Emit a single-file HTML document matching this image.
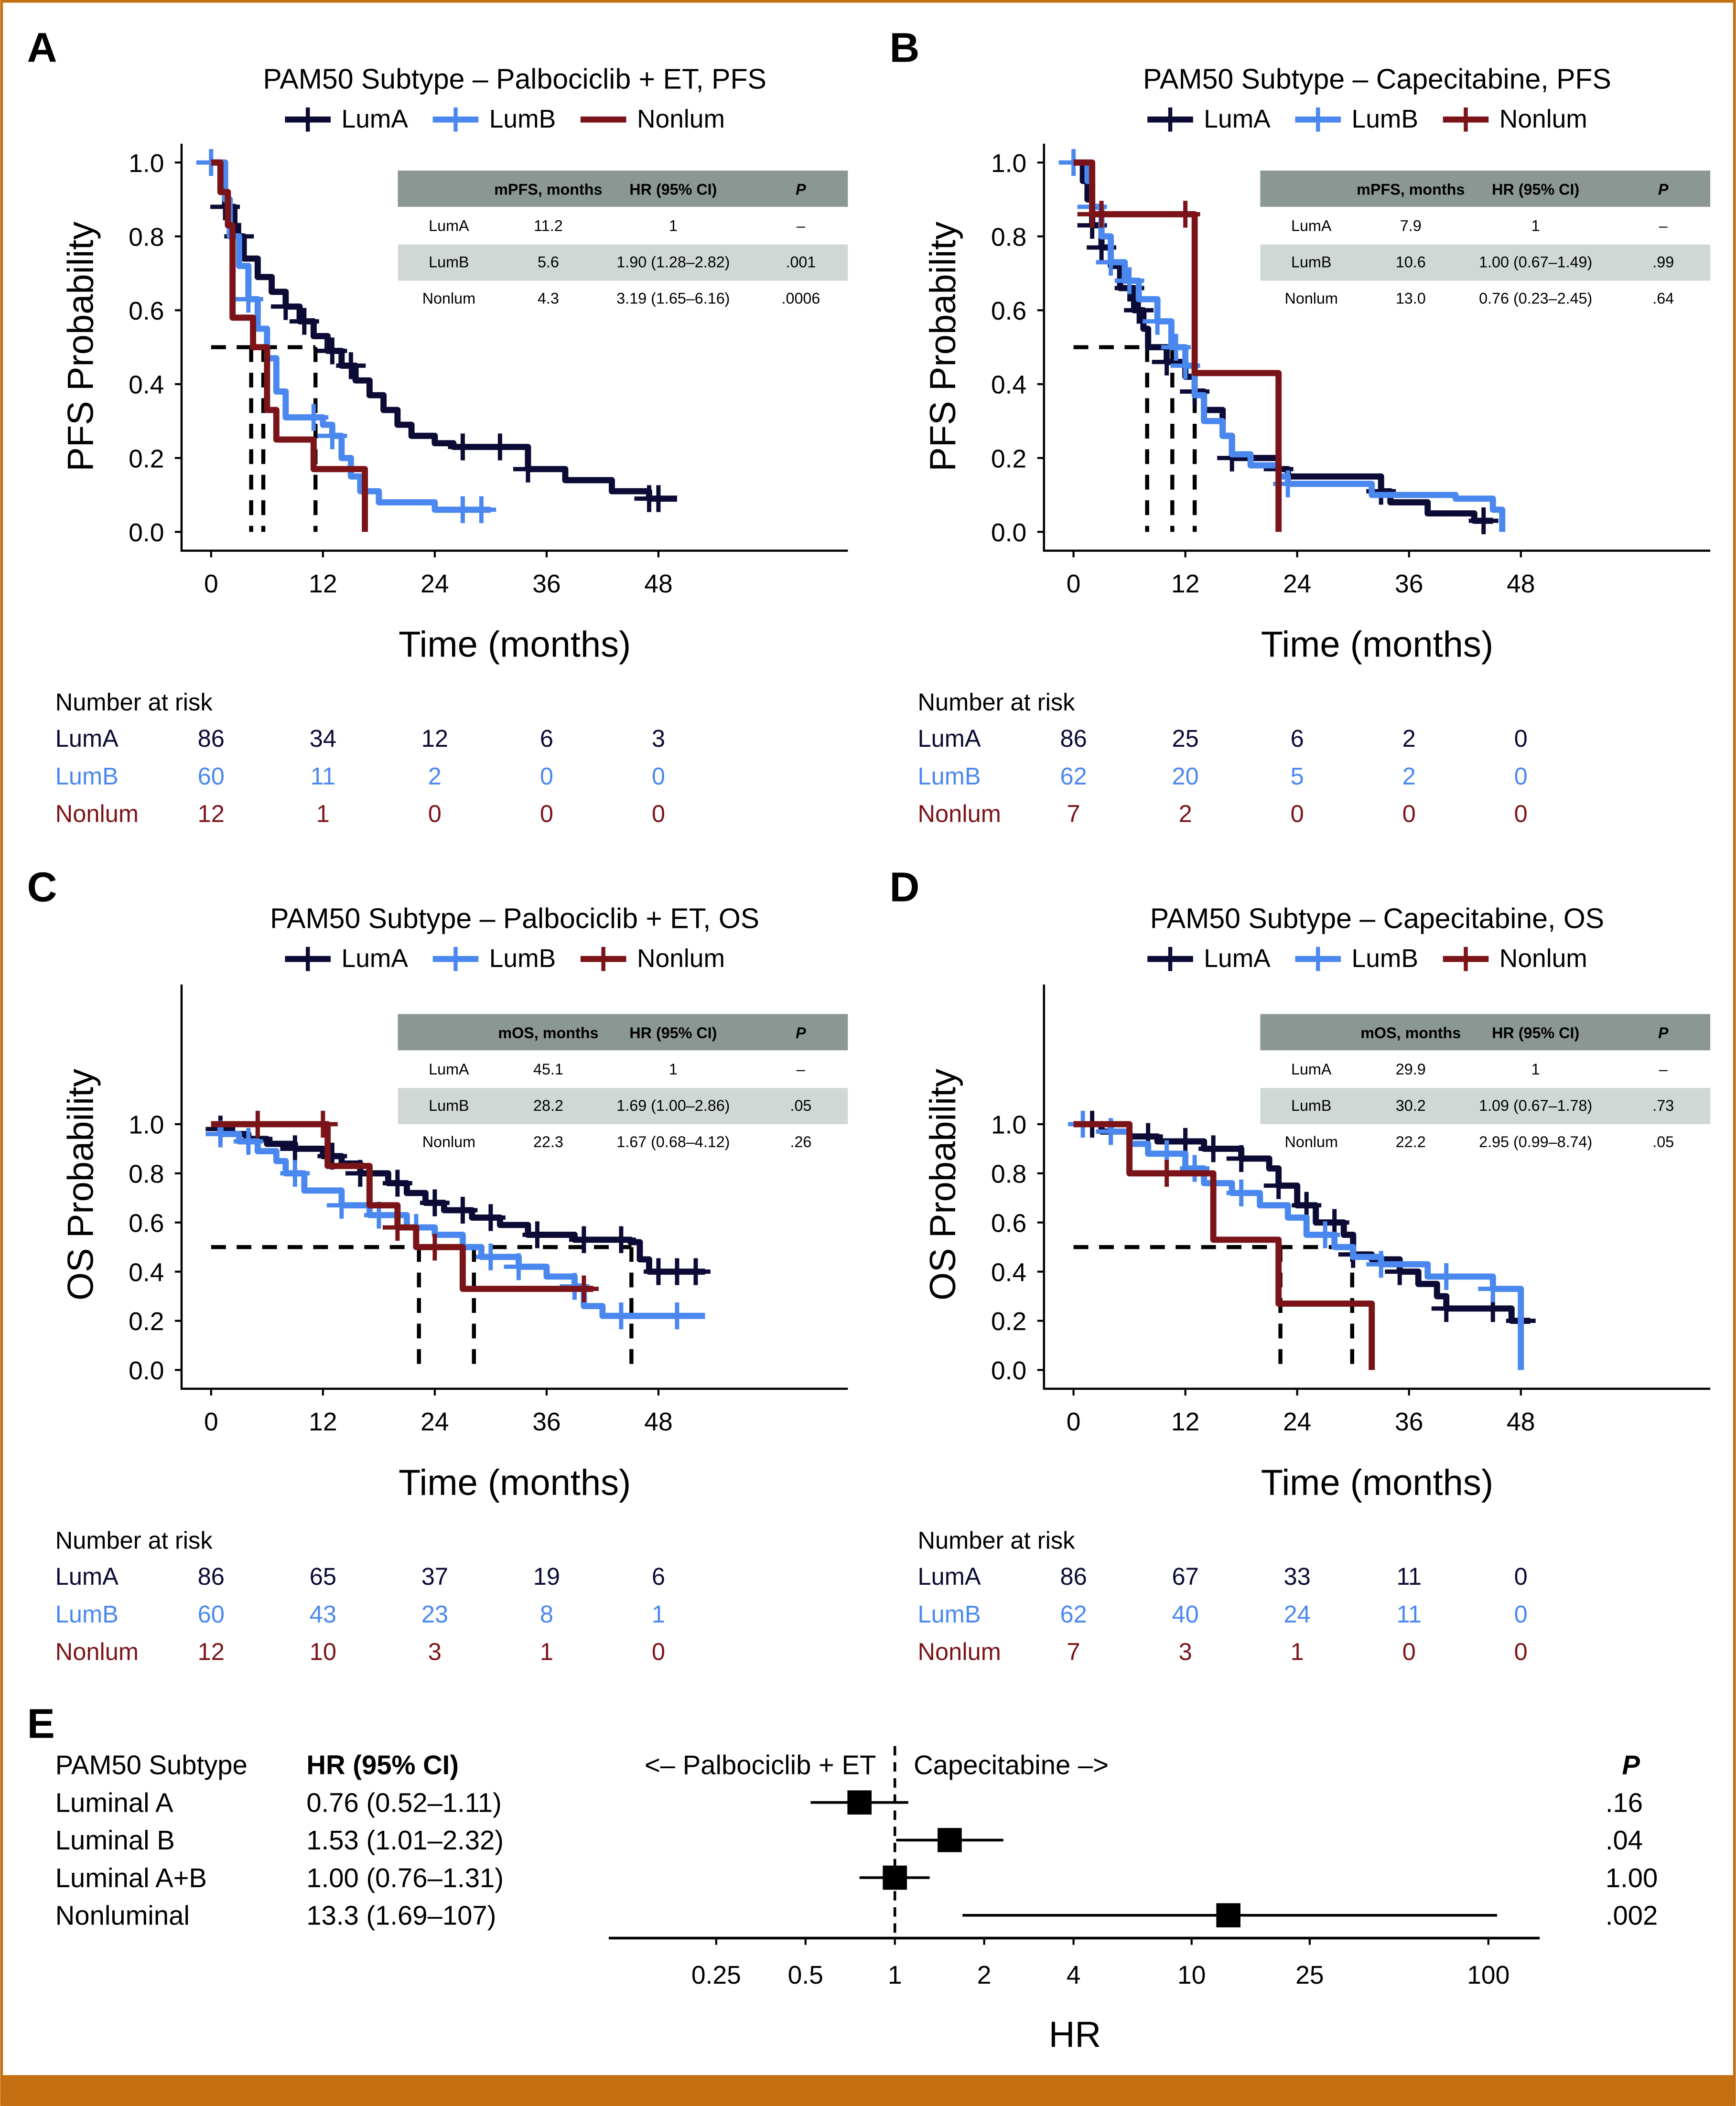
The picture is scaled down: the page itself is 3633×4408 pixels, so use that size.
<!DOCTYPE html>
<html><head><meta charset="utf-8"><style>
html,body{margin:0;padding:0;background:#fff}
svg{display:block}
text{font-family:"Liberation Sans Narrow","Liberation Sans",sans-serif}
</style></head><body>
<svg id="fig" xmlns="http://www.w3.org/2000/svg" width="3633" height="4408" viewBox="0 0 1292 1568">
<rect x="0" y="0" width="1292" height="1568" fill="#fff"/>
<rect x="1" y="1" width="1290" height="1560" fill="none" stroke="#c46f12" stroke-width="2"/>
<rect x="0" y="1545" width="1292" height="23" fill="#c46f12"/>
<g id="root"></g>
</svg>
<script>
// ===== Data =====
const xTicks = [0, 12, 24, 36, 48];
const pfsYTicks = ["0.0","0.2","0.4","0.6","0.8","1.0"];
const seriesNames = ["LumA","LumB","Nonlum"];
// Panel A (Palbociclib + ET, PFS)
const aLumAT = [0,1.5,2.5,3.5,5,6.5,8,9.5,11,12.5,14,15.5,17,18.5,20,21.5,24,26,34,36,38,43,47,50];
const aLumAS = [1,0.88,0.8,0.74,0.69,0.65,0.61,0.57,0.53,0.49,0.45,0.41,0.37,0.33,0.29,0.26,0.24,0.23,0.17,0.17,0.14,0.11,0.09,0.09];
const aLumBT = [0,1.5,2,3,4,5,6,7,8,12,13,14,15,16,18,24,30];
const aLumBS = [1,0.9,0.8,0.72,0.63,0.55,0.47,0.38,0.31,0.29,0.26,0.2,0.15,0.11,0.08,0.06,0.06];
const aNonT = [0,1,1.8,2.3,4.5,6,7,11,16.5];
const aNonS = [1,0.92,0.83,0.58,0.5,0.33,0.25,0.17,0.08];
const aNonEnd = 0;
const aLumACens = [1.5,3,8,10,13,15,27,31,34,47,48];
const aLumBCens = [0,4,11,13,27,29];
const aNonCens = [];
const aMedians = [4.3,5.6,11.2];
// Panel B (Capecitabine, PFS)
const bLumAT = [0,1,1.5,2,3,4,5,6.5,7.5,8,10,12,13,14,16,17,22,23,33,34,38,43,45];
const bLumAS = [1,0.95,0.9,0.83,0.77,0.72,0.66,0.6,0.55,0.5,0.46,0.42,0.38,0.33,0.26,0.2,0.17,0.15,0.11,0.08,0.05,0.03,0.03];
const bLumBT = [0,1.5,2,3,4,5.5,7,9,10.5,12,13,14,16,17,19,22,23,32,41,45,46];
const bLumBS = [1,0.95,0.88,0.8,0.73,0.68,0.63,0.57,0.5,0.45,0.37,0.3,0.26,0.21,0.18,0.15,0.13,0.1,0.09,0.06,0.06];
const bNonT = [0,2,13,22];
const bNonS = [1,0.86,0.43,0.43];
const bNonEnd = 0;
const bLumACens = [2,3,6,7,10,13,17,22,33,44];
const bLumBCens = [0,2,4,6,9,11,12,23];
const bNonCens = [2,3,12];
const bMedians = [7.9,10.6,13.0];
// Panel C (Palbociclib + ET, OS)
const cLumAT = [0,1,2,4,6,9,12,14,16,19,21,23,25,28,31,34,39,45,46,47,53];
const cLumAS = [1,0.98,0.96,0.94,0.92,0.9,0.87,0.84,0.8,0.76,0.72,0.68,0.65,0.62,0.59,0.55,0.53,0.52,0.45,0.4,0.4];
const cLumBT = [0,1,3,5,7,8,10,14,17,21,24,27,29,33,36,39,40,42,53];
const cLumBS = [1,0.96,0.93,0.89,0.85,0.8,0.73,0.67,0.63,0.58,0.55,0.5,0.46,0.42,0.38,0.34,0.26,0.22,0.22];
const cNonT = [0,12.5,17,20,22,27,41];
const cNonS = [1,0.83,0.67,0.58,0.5,0.33,0.33];
const cNonEnd = null;
const cLumACens = [1,5,9,13,16,20,24,27,30,35,40,44,48,50,52];
const cLumBCens = [1,4,9,14,18,22,30,33,39,44,50];
const cNonCens = [5,12,20,24,40];
const cMedians = [22.3,28.2,45.1];
// Panel D (Capecitabine, OS)
const dLumAT = [0,3,6,9,14,18,21,22,24,26,29,30,32,35,37,39,40,47,49];
const dLumAS = [1,0.97,0.95,0.93,0.9,0.86,0.82,0.75,0.67,0.6,0.55,0.47,0.45,0.4,0.35,0.3,0.25,0.2,0.2];
const dLumBT = [0,4,6,8,12,14,17,20,23,25,28,30,33,38,45,48];
const dLumBS = [1,0.97,0.92,0.88,0.82,0.76,0.72,0.67,0.62,0.55,0.5,0.46,0.43,0.38,0.33,0.28];
const dNonT = [0,6,15,22,32];
const dNonS = [1,0.8,0.53,0.27,0.27];
const dNonEnd = 0;
const dLumBEnd = 0;
const dLumACens = [2,4,8,12,15,18,22,25,28,30,35,40,45,48];
const dLumBCens = [1,4,10,13,18,27,33,40,45];
const dNonCens = [10];
const dMedians = [22.2,29.9];
// Number at risk
const riskA = [[86,34,12,6,3],[60,11,2,0,0],[12,1,0,0,0]];
const riskB = [[86,25,6,2,0],[62,20,5,2,0],[7,2,0,0,0]];
const riskC = [[86,65,37,19,6],[60,43,23,8,1],[12,10,3,1,0]];
const riskD = [[86,67,33,11,0],[62,40,24,11,0],[7,3,1,0,0]];
// Tables
const tableA = [["LumA","11.2","1","–"],["LumB","5.6","1.90 (1.28–2.82)",".001"],["Nonlum","4.3","3.19 (1.65–6.16)",".0006"]];
const tableB = [["LumA","7.9","1","–"],["LumB","10.6","1.00 (0.67–1.49)",".99"],["Nonlum","13.0","0.76 (0.23–2.45)",".64"]];
const tableC = [["LumA","45.1","1","–"],["LumB","28.2","1.69 (1.00–2.86)",".05"],["Nonlum","22.3","1.67 (0.68–4.12)",".26"]];
const tableD = [["LumA","29.9","1","–"],["LumB","30.2","1.09 (0.67–1.78)",".73"],["Nonlum","22.2","2.95 (0.99–8.74)",".05"]];
// Forest plot
const forestLabels = ["Luminal A","Luminal B","Luminal A+B","Nonluminal"];
const forestHRText = ["0.76 (0.52–1.11)","1.53 (1.01–2.32)","1.00 (0.76–1.31)","13.3 (1.69–107)"];
const forestHR = [0.76,1.53,1.00,13.3];
const forestLo = [0.52,1.01,0.76,1.69];
const forestHi = [1.11,2.32,1.31,107];
const forestP = [".16",".04","1.00",".002"];
const forestTicks = [0.25,0.5,1,2,4,10,25,100];
const forestTickLabels = ["0.25","0.5","1","2","4","10","25","100"];

// ===== Drawing =====
const NS = "http://www.w3.org/2000/svg";
const root = document.getElementById("root");
const COLORS = ["#0b0b36","#4a88f0","#7b1418"];
function mk(tag, attrs, parent, txt){
  const e = document.createElementNS(NS, tag);
  for (const k in attrs) e.setAttribute(k, attrs[k]);
  if (txt !== undefined) e.textContent = txt;
  (parent||root).appendChild(e);
  return e;
}
function stepAt(T,S,t){let v=S[0];for(let i=0;i<T.length;i++){if(T[i]<=t)v=S[i];}return v;}

function panel(cfg){
  const g = mk("g",{});
  
  
  const ox = cfg.ox;
  const X0 = 157+ox, XS = 333/48;
  const xs = t => X0 + t*XS;
  const ys = s => cfg.y0 - s*cfg.yscale;
  const L = mk("text",{x:20+ox,y:cfg.letterY,"font-size":31,"font-weight":"bold","font-family":"Liberation Sans, sans-serif"},g,cfg.letter);
  
  
  const T = mk("text",{x:383+ox,y:cfg.titleY,"font-size":21,"text-anchor":"middle"},g,cfg.title);
  
  
  const lx = [212,322,432];
  seriesNames.forEach((n,i)=>{
    const le = mk("g",{},g);
    
    
    const x = lx[i]+ox, y = cfg.titleY+29;
    mk("line",{x1:x,y1:y-6,x2:x+34,y2:y-6,stroke:COLORS[i],"stroke-width":4.5},le);
    if(i<2||cfg.nonCross) mk("path",{d:`M${x+17} ${y-15}V${y+3}M${x+8} ${y-6}H${x+26}`,stroke:COLORS[i],"stroke-width":3},le);
    mk("text",{x:x+42,y:y,"font-size":19},le,n);
  });
  const ax = mk("path",{d:`M${135+ox} ${cfg.top}V${cfg.axisY}H${631+ox}`,fill:"none",stroke:"#000","stroke-width":1.6},g);
  
  
  pfsYTicks.forEach((lab,i)=>{
    const y = ys(i*0.2);
    mk("line",{x1:130+ox,y1:y,x2:135+ox,y2:y,stroke:"#000","stroke-width":1.5},g);
    const t = mk("text",{x:122+ox,y:y+7,"font-size":19,"text-anchor":"end"},g,lab);
    
    
  });
  xTicks.forEach(v=>{
    const x = xs(v);
    mk("line",{x1:x,y1:cfg.axisY,x2:x,y2:cfg.axisY+5,stroke:"#000","stroke-width":1.5},g);
    const t = mk("text",{x:x,y:cfg.axisY+31,"font-size":19,"text-anchor":"middle"},g,String(v));
    
    
  });
  const yt = mk("text",{x:0,y:0,"font-size":27,"text-anchor":"middle",transform:`translate(${69+ox},${cfg.ylabY}) rotate(-90)`},g,cfg.ylab);
  
  
  const xt = mk("text",{x:383+ox,y:cfg.axisY+79,"font-size":27,"text-anchor":"middle"},g,"Time (months)");
  
  
  const tb = mk("g",{},g);
  
  
  const ty = cfg.tableY;
  mk("rect",{x:296+ox,y:ty,width:335,height:27,fill:"#8a9792"},tb);
  mk("rect",{x:296+ox,y:ty+55,width:335,height:27,fill:"#d0d8d6"},tb);
  const cx = [334,408,501,596];
  const hdr = ["",cfg.medLabel,"HR (95% CI)","P"];
  hdr.forEach((h,i)=>{ if(h) mk("text",{x:cx[i]+ox,y:ty+18,"font-size":11.5,"font-weight":"bold","font-style":i==3?"italic":"normal","text-anchor":"middle"},tb,h); });
  cfg.table.forEach((r,j)=>{ r.forEach((c,i)=>mk("text",{x:cx[i]+ox,y:ty+45+j*27,"font-size":11.5,"text-anchor":"middle"},tb,c)); });
  const med = mk("g",{stroke:"#000","stroke-width":3,"stroke-dasharray":"11,8",fill:"none"},g);
  
  
  const mx = Math.max(...cfg.medians);
  mk("line",{x1:xs(0),y1:ys(0.5),x2:xs(mx),y2:ys(0.5)},med);
  cfg.medians.forEach(m=>mk("line",{x1:xs(m),y1:ys(0.5),x2:xs(m),y2:ys(0)},med));
  cfg.series.forEach((s,i)=>{
    const cg = mk("g",{},g);
    
    
    let d = `M${xs(s.T[0])} ${ys(s.S[0])}`;
    for(let k=1;k<s.T.length;k++){ d += `H${xs(s.T[k])}V${ys(s.S[k])}`; }
    if(s.end!==null && s.end!==undefined) d += `V${ys(s.end)}`;
    mk("path",{d:d,fill:"none",stroke:COLORS[i],"stroke-width":4.6,"stroke-linejoin":"round"},cg);
    s.C.forEach(c=>{
      const x = xs(c), y = ys(stepAt(s.T,s.S,c));
      const m = mk("path",{d:`M${x} ${y-10}V${y+10}M${x-11} ${y}H${x+11}`,stroke:COLORS[i],"stroke-width":3.2},cg);
      
      
    });
  });
  const rg = mk("g",{},g);
  
  
  mk("text",{x:41+ox,y:cfg.riskY,"font-size":18},rg,"Number at risk");
  cfg.risk.forEach((row,j)=>{
    mk("text",{x:41+ox,y:cfg.riskY+27+j*28,"font-size":18,fill:COLORS[j]},rg,seriesNames[j]);
    row.forEach((v,k)=>mk("text",{x:xs(xTicks[k]),y:cfg.riskY+27+j*28,"font-size":18,fill:COLORS[j],"text-anchor":"middle"},rg,String(v)));
  });
}

const pfsCfg = {y0:396,yscale:275,top:107,axisY:410,ylabY:258,tableY:127,riskY:529,letterY:46,titleY:66,ylab:"PFS Probability",medLabel:"mPFS, months"};
const osCfg = {y0:1020,yscale:183,top:733,axisY:1034,ylabY:882,tableY:755,riskY:1153,letterY:671,titleY:691,ylab:"OS Probability",medLabel:"mOS, months"};
panel(Object.assign({},pfsCfg,{name:"panel-a",ox:0,letter:"A",title:"PAM50 Subtype – Palbociclib + ET, PFS",table:tableA,medians:aMedians,risk:riskA,
  series:[{T:aLumAT,S:aLumAS,C:aLumACens},{T:aLumBT,S:aLumBS,C:aLumBCens},{T:aNonT,S:aNonS,C:aNonCens,end:aNonEnd}]}));
panel(Object.assign({},pfsCfg,{name:"panel-b",ox:642,letter:"B",title:"PAM50 Subtype – Capecitabine, PFS",table:tableB,medians:bMedians,risk:riskB,nonCross:true,
  series:[{T:bLumAT,S:bLumAS,C:bLumACens},{T:bLumBT,S:bLumBS,C:bLumBCens,end:0},{T:bNonT,S:bNonS,C:bNonCens,end:bNonEnd}]}));
panel(Object.assign({},osCfg,{name:"panel-c",ox:0,letter:"C",title:"PAM50 Subtype – Palbociclib + ET, OS",table:tableC,medians:cMedians,risk:riskC,nonCross:true,
  series:[{T:cLumAT,S:cLumAS,C:cLumACens},{T:cLumBT,S:cLumBS,C:cLumBCens},{T:cNonT,S:cNonS,C:cNonCens,end:cNonEnd}]}));
panel(Object.assign({},osCfg,{name:"panel-d",ox:642,letter:"D",title:"PAM50 Subtype – Capecitabine, OS",table:tableD,medians:dMedians,risk:riskD,nonCross:true,
  series:[{T:dLumAT,S:dLumAS,C:dLumACens},{T:dLumBT,S:dLumBS,C:dLumBCens,end:dLumBEnd},{T:dNonT,S:dNonS,C:dNonCens,end:dNonEnd}]}));

(function(){
  const g = mk("g",{});
  
  
  const fx = v => 666 + Math.log2(v)*66.5;
  const L = mk("text",{x:20,y:1294,"font-size":31,"font-weight":"bold","font-family":"Liberation Sans, sans-serif"},g,"E");
  
  
  mk("text",{x:41,y:1321,"font-size":20},g,"PAM50 Subtype");
  mk("text",{x:228,y:1321,"font-size":20,"font-weight":"bold"},g,"HR (95% CI)");
  mk("text",{x:652,y:1321,"font-size":20,"text-anchor":"end"},g,"<– Palbociclib + ET");
  mk("text",{x:680,y:1321,"font-size":20},g,"Capecitabine –>");
  mk("text",{x:1214,y:1321,"font-size":20,"font-weight":"bold","font-style":"italic","text-anchor":"middle"},g,"P");
  mk("line",{x1:666,y1:1300,x2:666,y2:1443,stroke:"#000","stroke-width":2,"stroke-dasharray":"7,5"},g);
  forestLabels.forEach((lab,i)=>{
    const y = 1349 + i*28;
    const r = mk("g",{},g);
    
    
    mk("text",{x:41,y:y,"font-size":20},r,lab);
    mk("text",{x:228,y:y,"font-size":20},r,forestHRText[i]);
    mk("text",{x:1195,y:y,"font-size":20},r,forestP[i]);
    const cy = y-7;
    mk("line",{x1:fx(forestLo[i]),y1:cy,x2:fx(forestHi[i]),y2:cy,stroke:"#000","stroke-width":2},r);
    const sq = mk("rect",{x:fx(forestHR[i])-9,y:cy-9,width:18,height:18,fill:"#000"},r);
    
    
  });
  mk("line",{x1:453,y1:1443,x2:1146,y2:1443,stroke:"#000","stroke-width":2},g);
  forestTicks.forEach((v,i)=>{
    mk("line",{x1:fx(v),y1:1443,x2:fx(v),y2:1448,stroke:"#000","stroke-width":1.5},g);
    const t = mk("text",{x:fx(v),y:1477,"font-size":19,"text-anchor":"middle"},g,forestTickLabels[i]);
    
    
  });
  const xt = mk("text",{x:800,y:1524,"font-size":27,"text-anchor":"middle"},g,"HR");
  
  
})();
</script>
</body></html>
